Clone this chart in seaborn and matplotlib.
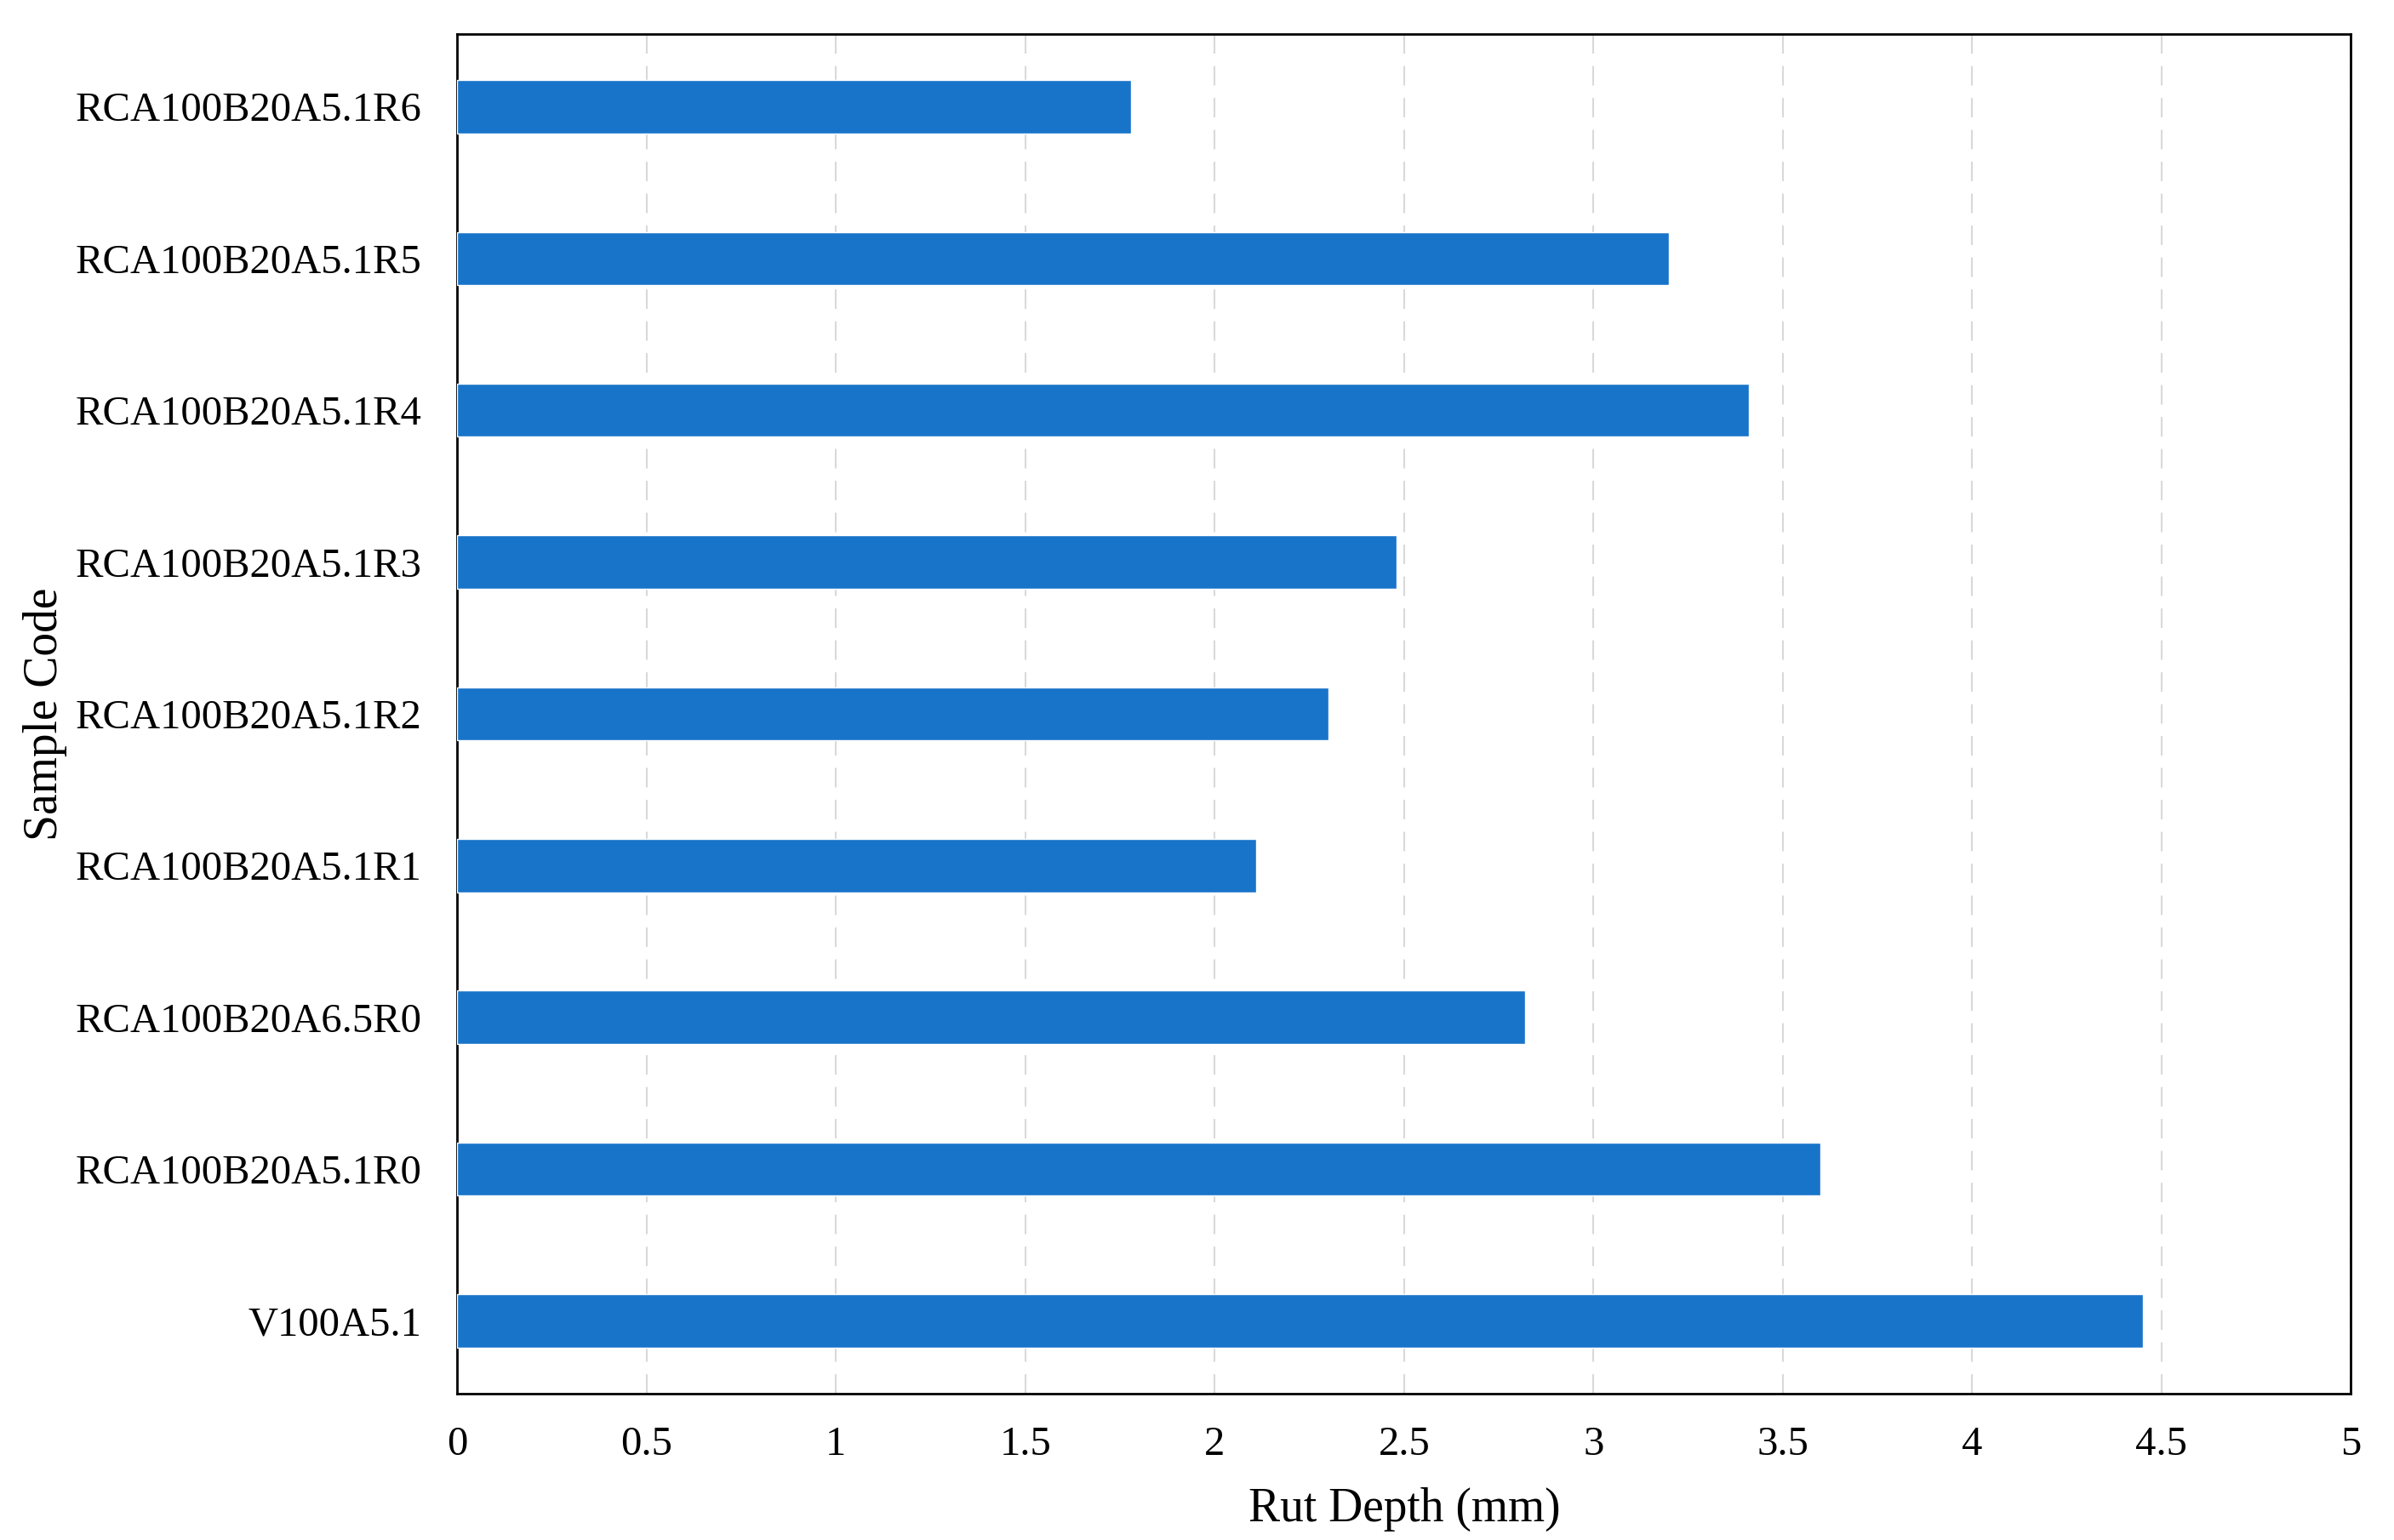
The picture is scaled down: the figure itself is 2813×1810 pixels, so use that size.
import pandas as pd
import numpy as np
import matplotlib
matplotlib.use('Agg')
import matplotlib.pyplot as plt
import seaborn as sns

# Rut depth per sample, listed top to bottom as in the chart
sample_codes = ['RCA100B20A5.1R6', 'RCA100B20A5.1R5', 'RCA100B20A5.1R4',
                'RCA100B20A5.1R3', 'RCA100B20A5.1R2', 'RCA100B20A5.1R1',
                'RCA100B20A6.5R0', 'RCA100B20A5.1R0', 'V100A5.1']
rut_depth = [1.78, 3.20, 3.41, 2.48, 2.30, 2.11, 2.82, 3.60, 4.45]
x_ticks = [0, 0.5, 1, 1.5, 2, 2.5, 3, 3.5, 4, 4.5, 5]

df = pd.DataFrame({'Sample Code': sample_codes, 'Rut Depth': rut_depth})

sns.set_style('white')
plt.rcParams['font.family'] = ['Liberation Serif', 'DejaVu Serif']
plt.rcParams['text.color'] = 'black'
plt.rcParams['axes.labelcolor'] = 'black'
plt.rcParams['xtick.color'] = 'black'
plt.rcParams['ytick.color'] = 'black'

fig = plt.figure(figsize=(28.13, 18.10), dpi=100)
ax = fig.add_axes([0.191, 0.095, 0.791, 0.883])

sns.barplot(data=df, x='Rut Depth', y='Sample Code', order=sample_codes,
            orient='h', color='#1874C9', saturation=1, width=0.35, ax=ax,
            zorder=3)

ax.set_xlim(0, 5)
ax.set_ylim(8.48, -0.48)
ax.set_xticks(x_ticks)
ax.set_xticklabels([f'{t:g}' for t in x_ticks])

ax.grid(axis='x', color='#d9d9d9', linestyle=(0, (11, 7)), linewidth=1.5, zorder=0)
ax.grid(axis='y', visible=False)
ax.set_axisbelow(True)

for sp in ax.spines.values():
    sp.set_visible(True)
    sp.set_color('black')
    sp.set_linewidth(2)

ax.tick_params(axis='y', length=0, pad=30, labelsize=35, labelcolor='black')
ax.tick_params(axis='x', length=0, pad=27, labelsize=35, labelcolor='black')

ax.set_xlabel('Rut Depth (mm)', fontsize=40, labelpad=20, color='black')
ax.set_ylabel('Sample Code', fontsize=40, color='black')
ax.yaxis.set_label_coords(-0.206, 0.5)

plt.savefig('out.png', dpi=100)
